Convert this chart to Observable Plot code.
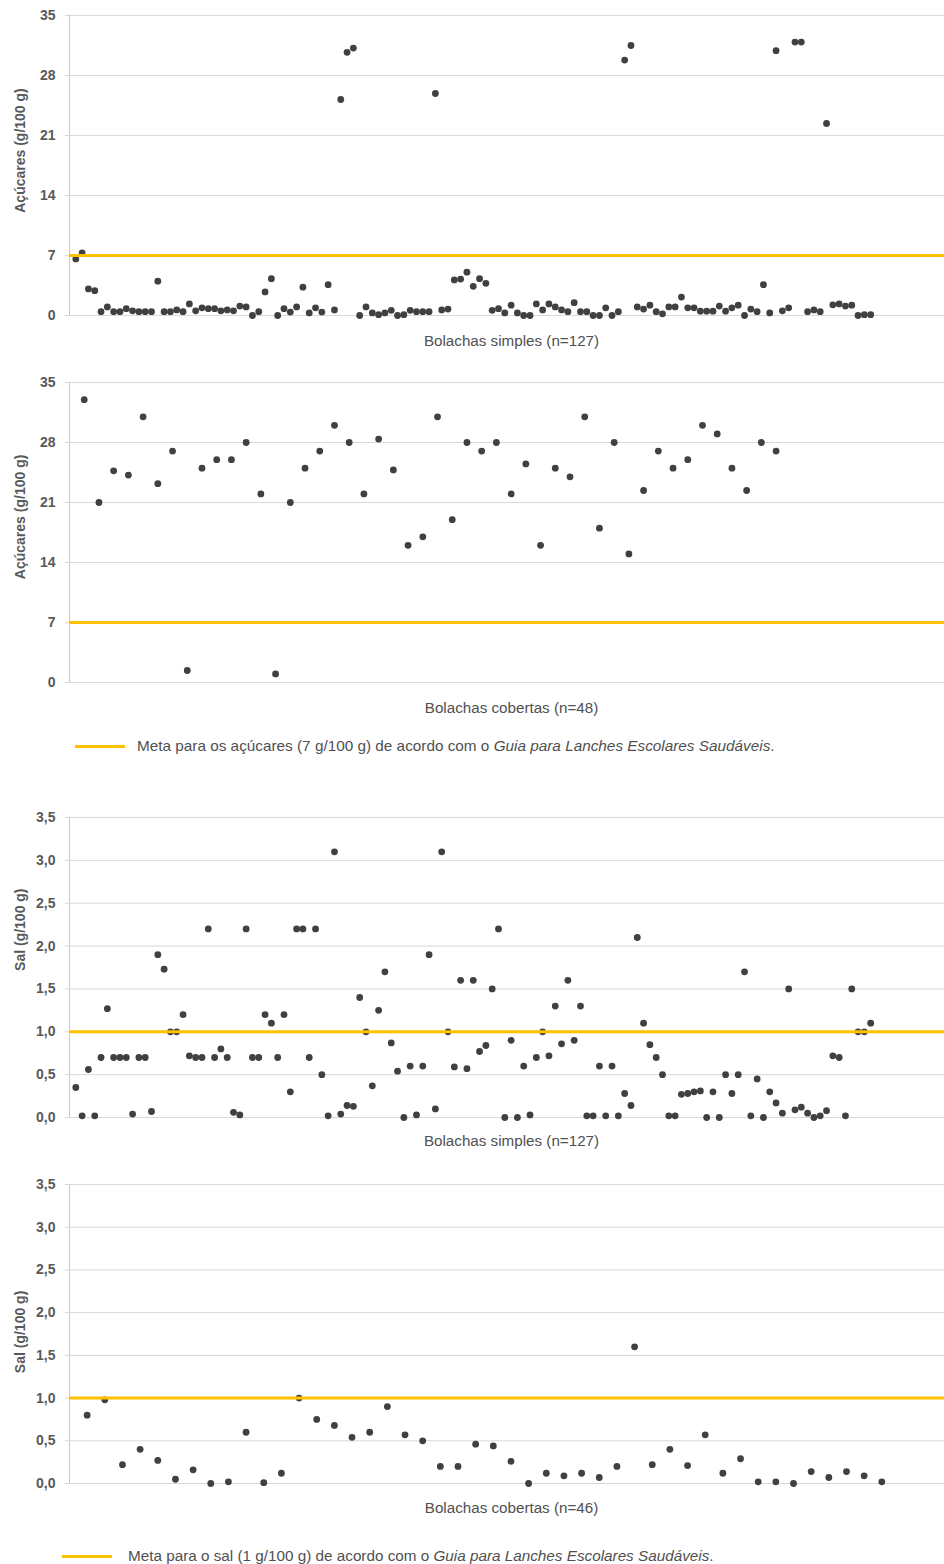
<!DOCTYPE html>
<html>
<head>
<meta charset="utf-8">
<script src="https://cdn.jsdelivr.net/npm/d3@7"></script>
<script src="https://cdn.jsdelivr.net/npm/@observablehq/plot@0.6"></script>
<style>
  html, body { margin: 0; padding: 0; background: #ffffff; }
  #root { position: relative; width: 944px; height: 1564px; overflow: hidden;
          font-family: "Liberation Sans", Arial, Helvetica, sans-serif; }
  .panel { position: absolute; left: 0; }
  .panel svg { display: block; overflow: visible; }
  .legend { position: absolute; height: 20px; display: flex; align-items: center;
            white-space: nowrap; color: #505050; }
  .swatch { display: inline-block; width: 50px; height: 3px; background: #FFC000; }
  .legend .txt { font-size: 14px; line-height: 20px; }
</style>
</head>
<body>
<div id="root"></div>
<script>
// ---------------- DATA ----------------
const acucarSimples = [
  6.6, 7.3, 3.1, 2.9, 0.45, 1.0, 0.45, 0.45, 0.8, 0.55,
  0.45, 0.45, 0.45, 4.0, 0.45, 0.45, 0.65, 0.45, 1.35, 0.55,
  0.9, 0.8, 0.8, 0.55, 0.65, 0.55, 1.1, 1.0, 0, 0.45,
  2.75, 4.3, 0, 0.8, 0.4, 1.0, 3.3, 0.3, 0.9, 0.4,
  3.6, 0.65, 25.2, 30.7, 31.2, 0, 1.0, 0.3, 0.1, 0.3,
  0.6, 0, 0.1, 0.6, 0.45, 0.45, 0.45, 25.9, 0.65, 0.75,
  4.15, 4.25, 5.05, 3.4, 4.3, 3.75, 0.6, 0.8, 0.3, 1.2,
  0.3, 0, 0, 1.35, 0.65, 1.35, 1.0, 0.65, 0.45, 1.5,
  0.45, 0.45, 0, 0, 0.9, 0, 0.45, 29.8, 31.5, 1.0,
  0.75, 1.2, 0.45, 0.2, 1.0, 1.0, 2.15, 0.9, 0.9, 0.5,
  0.5, 0.5, 1.1, 0.5, 0.9, 1.2, 0, 0.75, 0.45, 3.6,
  0.3, 30.9, 0.55, 0.9, 31.9, 31.9, 0.45, 0.65, 0.45, 22.4,
  1.25, 1.35, 1.1, 1.2, 0, 0.1, 0.1
];
const acucarCobertas = [
  33, 21, 24.7, 24.2, 31, 23.2, 27, 1.4, 25, 26,
  26, 28, 22, 1, 21, 25, 27, 30, 28, 22,
  28.4, 24.8, 16, 17, 31, 19, 28, 27, 28, 22,
  25.5, 16, 25, 24, 31, 18, 28, 15, 22.4, 27,
  25, 26, 30, 29, 25, 22.4, 28, 27
];
const salSimples = [
  0.35, 0.02, 0.56, 0.02, 0.7, 1.27, 0.7, 0.7, 0.7, 0.04,
  0.7, 0.7, 0.07, 1.9, 1.73, 1.0, 1.0, 1.2, 0.72, 0.7,
  0.7, 2.2, 0.7, 0.8, 0.7, 0.06, 0.03, 2.2, 0.7, 0.7,
  1.2, 1.1, 0.7, 1.2, 0.3, 2.2, 2.2, 0.7, 2.2, 0.5,
  0.02, 3.1, 0.04, 0.14, 0.13, 1.4, 1.0, 0.37, 1.25, 1.7,
  0.87, 0.54, 0.0, 0.6, 0.03, 0.6, 1.9, 0.1, 3.1, 1.0,
  0.59, 1.6, 0.57, 1.6, 0.77, 0.84, 1.5, 2.2, 0.0, 0.9,
  0.0, 0.6, 0.03, 0.7, 1.0, 0.72, 1.3, 0.86, 1.6, 0.9,
  1.3, 0.02, 0.02, 0.6, 0.02, 0.6, 0.02, 0.28, 0.14, 2.1,
  1.1, 0.85, 0.7, 0.5, 0.02, 0.02, 0.27, 0.28, 0.3, 0.31,
  0.0, 0.3, 0.0, 0.5, 0.28, 0.5, 1.7, 0.02, 0.45, 0.0,
  0.3, 0.17, 0.05, 1.5, 0.09, 0.12, 0.05, 0.0, 0.02, 0.08,
  0.72, 0.7, 0.02, 1.5, 1.0, 1.0, 1.1
];
const salCobertas = [
  0.8, 0.98, 0.22, 0.4, 0.27, 0.05, 0.16, 0.0, 0.02, 0.6,
  0.01, 0.12, 1.0, 0.75, 0.68, 0.54, 0.6, 0.9, 0.57, 0.5,
  0.2, 0.2, 0.46, 0.44, 0.26, 0.0, 0.12, 0.09, 0.12, 0.07,
  0.2, 1.6, 0.22, 0.4, 0.21, 0.57, 0.12, 0.29, 0.02, 0.02,
  0.0, 0.14, 0.07, 0.14, 0.09, 0.02
];
const ticksAcucar = [0, 7, 14, 21, 28, 35];
const ticksSal = [0, 0.5, 1.0, 1.5, 2.0, 2.5, 3.0, 3.5];
const metaAcucar = 7;
const metaSal = 1;
const labelSimplesAcucar = "Bolachas simples (n=127)";
const labelCobertasAcucar = "Bolachas cobertas (n=48)";
const labelSimplesSal = "Bolachas simples (n=127)";
const labelCobertasSal = "Bolachas cobertas (n=46)";
const tituloAcucar = "Açúcares (g/100 g)";
const tituloSal = "Sal (g/100 g)";

// ---------------- DRAWING ----------------
const FONT = '"Liberation Sans", Arial, Helvetica, sans-serif';
const root = document.getElementById("root");
const fmtSal = d => d3.format(".1f")(d).replace(".", ",");
const fmtAcucar = d => String(d);

function panel({values, xmax, yticks, yfmt, target, top, plotH, label, labelDy, ylabel, ylabelDy}) {
  const mt = 10, mb = 40;
  const data = values.map((v, i) => ({idx: i + 1, v}));
  const chart = Plot.plot({
    width: 944,
    height: mt + plotH + mb,
    marginLeft: 69, marginRight: 0, marginTop: mt, marginBottom: mb,
    style: {fontFamily: FONT, background: "transparent", overflow: "visible"},
    x: {domain: [0, xmax], axis: null},
    y: {domain: [yticks[0], yticks[yticks.length - 1]], axis: null},
    marks: [
      Plot.ruleY(yticks, {stroke: "#d9d9d9", strokeWidth: 1}),
      Plot.axisY({ticks: yticks, tickFormat: yfmt, tickSize: 4, tickPadding: 10,
                  color: "#595959", stroke: "#d9d9d9", fontSize: 14, fontWeight: "bold", label: null}),
      Plot.ruleX([0], {stroke: "#c8c8c8", strokeWidth: 1}),
      Plot.dot(data, {x: "idx", y: "v", r: 3.4, fill: "#404040", stroke: "none"}),
      Plot.ruleY([target], {stroke: "#FFC000", strokeWidth: 3}),
      Plot.text([label], {text: d => d, frameAnchor: "bottom", dx: 4.5, dy: labelDy,
                          lineAnchor: "middle", fontSize: 15.2, fill: "#505050"}),
      Plot.text([ylabel], {text: d => d, frameAnchor: "left", textAnchor: "middle",
                           dx: -49, dy: ylabelDy, rotate: -90,
                           lineAnchor: "middle", fontSize: 14, fontWeight: "bold", fill: "#595959"})
    ]
  });
  const div = document.createElement("div");
  div.className = "panel";
  div.style.top = (top - mt) + "px";
  div.appendChild(chart);
  root.appendChild(div);
}

panel({values: acucarSimples, xmax: 138.7, yticks: ticksAcucar, yfmt: fmtAcucar, target: metaAcucar,
       top: 15, plotH: 300, label: labelSimplesAcucar, labelDy: 26, ylabel: tituloAcucar, ylabelDy: -15});
panel({values: acucarCobertas, xmax: 59.44, yticks: ticksAcucar, yfmt: fmtAcucar, target: metaAcucar,
       top: 382.3, plotH: 300, label: labelCobertasAcucar, labelDy: 25.4, ylabel: tituloAcucar, ylabelDy: -15.6});
panel({values: salSimples, xmax: 138.7, yticks: ticksSal, yfmt: fmtSal, target: metaSal,
       top: 817.3, plotH: 300, label: labelSimplesSal, labelDy: 23.4, ylabel: tituloSal, ylabelDy: -37.8});
panel({values: salCobertas, xmax: 49.55, yticks: ticksSal, yfmt: fmtSal, target: metaSal,
       top: 1184.3, plotH: 299, label: labelCobertasSal, labelDy: 24.4, ylabel: tituloSal, ylabelDy: -2.1});

function legend({left, gap, centerY, pre, italic, post, targetWidth}) {
  const div = document.createElement("div");
  div.className = "legend";
  div.style.left = left + "px";
  div.style.top = (centerY - 10) + "px";
  const sw = document.createElement("span");
  sw.className = "swatch";
  sw.style.marginRight = gap + "px";
  const txt = document.createElement("span");
  txt.className = "txt";
  txt.appendChild(document.createTextNode(pre));
  const it = document.createElement("i");
  it.textContent = italic;
  txt.appendChild(it);
  txt.appendChild(document.createTextNode(post));
  div.appendChild(sw);
  div.appendChild(txt);
  root.appendChild(div);
  const w = txt.getBoundingClientRect().width;
  if (w > 0) txt.style.fontSize = (14 * targetWidth / w).toFixed(2) + "px";
}

legend({left: 75, gap: 12, centerY: 746, pre: "Meta para os açúcares (7 g/100 g) de acordo com o ",
        italic: "Guia para Lanches Escolares Saudáveis", post: ".", targetWidth: 638});
legend({left: 62, gap: 16, centerY: 1556, pre: "Meta para o sal (1 g/100 g) de acordo com o ",
        italic: "Guia para Lanches Escolares Saudáveis", post: ".", targetWidth: 586});
</script>
</body>
</html>
